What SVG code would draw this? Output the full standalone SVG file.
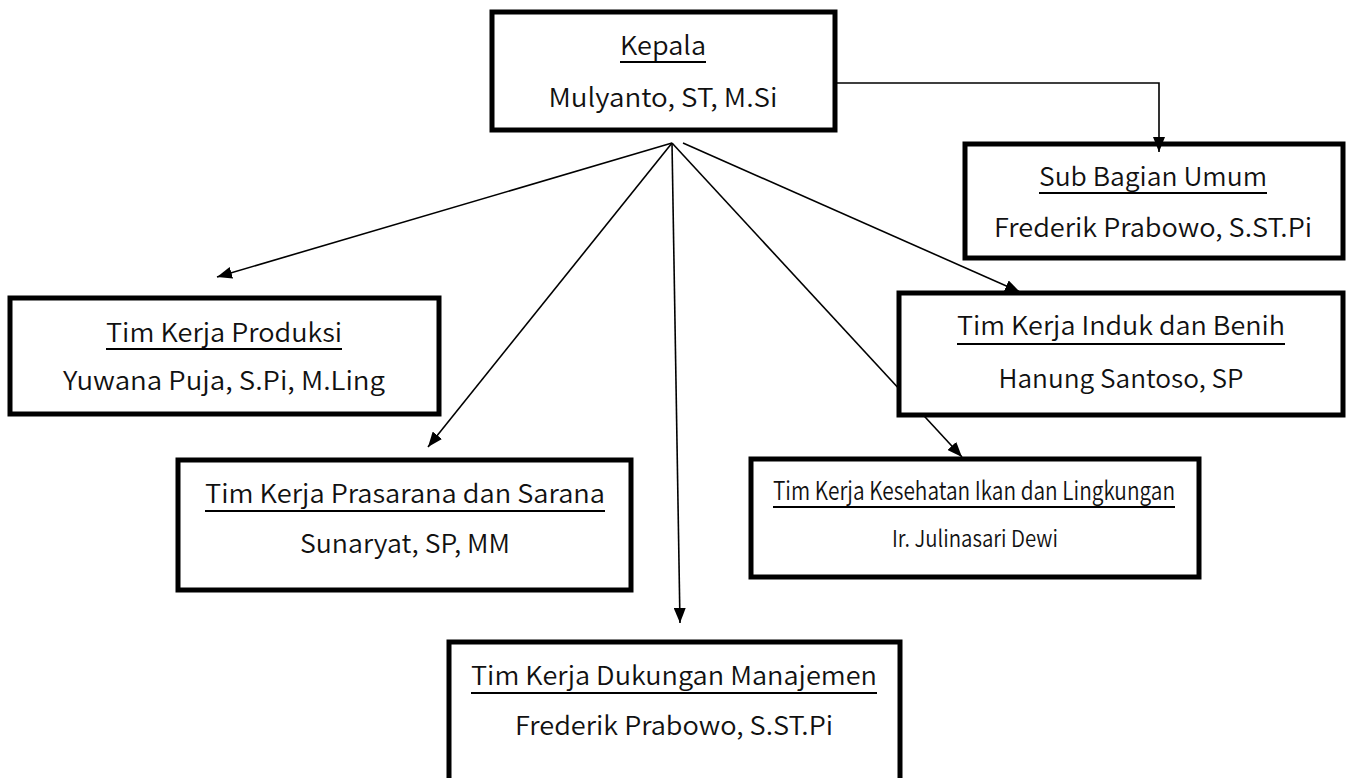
<svg xmlns="http://www.w3.org/2000/svg" width="1352" height="778" viewBox="0 0 1352 778">
<style>
.box{fill:#fff;stroke:#000;stroke-width:5}
.t{font-family:"Noto Sans CJK JP","Liberation Sans",sans-serif;font-size:26px;font-weight:350;fill:#111;text-anchor:middle}
.s{font-size:25px}
.n{font-size:23px}
.ul{stroke:#000;stroke-width:2}
.c{fill:none;stroke:#000;stroke-width:1.6}
</style>
<defs>
<marker id="ah" markerWidth="15" markerHeight="12" refX="15" refY="6" orient="auto" markerUnits="userSpaceOnUse">
<path d="M0,0 L15,6 L0,12 z" fill="#000"/>
</marker>
</defs>
<rect width="1352" height="778" fill="#fff"/>
<g id="sub-bagian-umum">
<rect class="box" x="965" y="144" width="378" height="114"/>
<text class="t" x="1153" y="186" textLength="228" lengthAdjust="spacingAndGlyphs">Sub Bagian Umum</text>
<line class="ul" x1="1039" y1="193" x2="1267" y2="193"/>
<text class="t" x="1153" y="237" textLength="318" lengthAdjust="spacingAndGlyphs">Frederik Prabowo, S.ST.Pi</text>
</g>
<g id="kepala">
<rect class="box" x="492" y="12" width="343" height="118"/>
<text class="t" x="663" y="55" textLength="86" lengthAdjust="spacingAndGlyphs">Kepala</text>
<line class="ul" x1="620" y1="62" x2="706" y2="62"/>
<text class="t" x="663" y="107" textLength="229" lengthAdjust="spacingAndGlyphs">Mulyanto, ST, M.Si</text>
</g>
<g id="connectors">
<path class="c" d="M837,83 H1159 V152" marker-end="url(#ah)"/>
<line class="c" x1="672" y1="143" x2="217" y2="277" marker-end="url(#ah)"/>
<line class="c" x1="672" y1="143" x2="428" y2="447" marker-end="url(#ah)"/>
<line class="c" x1="672" y1="143" x2="680" y2="623" marker-end="url(#ah)"/>
<line class="c" x1="672" y1="143" x2="962" y2="457" marker-end="url(#ah)"/>
<line class="c" x1="683" y1="143" x2="1020" y2="292" marker-end="url(#ah)"/>
</g>
<g id="induk-benih">
<rect class="box" x="899" y="293" width="444" height="122"/>
<text class="t" x="1121" y="335" textLength="328" lengthAdjust="spacingAndGlyphs">Tim Kerja Induk dan Benih</text>
<line class="ul" x1="957" y1="344" x2="1285" y2="344"/>
<text class="t" x="1121" y="388" textLength="245" lengthAdjust="spacingAndGlyphs">Hanung Santoso, SP</text>
</g>
<g id="produksi">
<rect class="box" x="10" y="298" width="429" height="116"/>
<text class="t" x="224" y="342" textLength="236" lengthAdjust="spacingAndGlyphs">Tim Kerja Produksi</text>
<line class="ul" x1="106" y1="349" x2="342" y2="349"/>
<text class="t" x="224" y="390" textLength="322" lengthAdjust="spacingAndGlyphs">Yuwana Puja, S.Pi, M.Ling</text>
</g>
<g id="prasarana-sarana">
<rect class="box" x="178" y="460" width="453" height="130"/>
<text class="t" x="405" y="503" textLength="400" lengthAdjust="spacingAndGlyphs">Tim Kerja Prasarana dan Sarana</text>
<line class="ul" x1="205" y1="511" x2="605" y2="511"/>
<text class="t" x="405" y="553" textLength="210" lengthAdjust="spacingAndGlyphs">Sunaryat, SP, MM</text>
</g>
<g id="kesehatan-ikan">
<rect class="box" x="751" y="459" width="448" height="118"/>
<text class="t s" x="974" y="500" textLength="402" lengthAdjust="spacingAndGlyphs">Tim Kerja Kesehatan Ikan dan Lingkungan</text>
<line class="ul" x1="773" y1="507" x2="1175" y2="507"/>
<text class="t n" x="975" y="547" textLength="166" lengthAdjust="spacingAndGlyphs">Ir. Julinasari Dewi</text>
</g>
<g id="dukungan-manajemen">
<rect class="box" x="449" y="642" width="451" height="145"/>
<text class="t" x="674" y="685" textLength="406" lengthAdjust="spacingAndGlyphs">Tim Kerja Dukungan Manajemen</text>
<line class="ul" x1="471" y1="693" x2="877" y2="693"/>
<text class="t" x="674" y="735" textLength="318" lengthAdjust="spacingAndGlyphs">Frederik Prabowo, S.ST.Pi</text>
</g>
</svg>
